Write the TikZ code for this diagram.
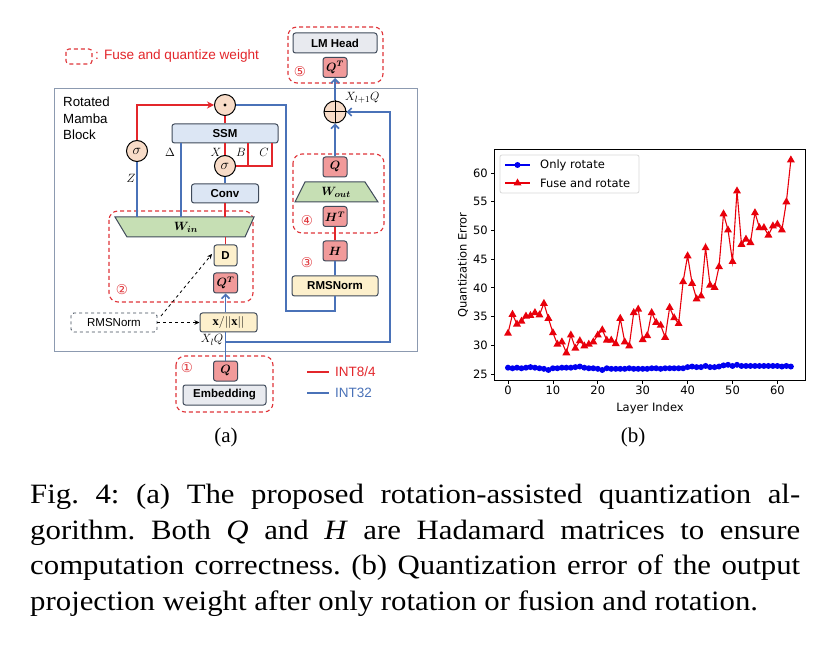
\documentclass[tikz,border=0pt]{standalone}
\usepackage{amsmath}
\usepackage{fontspec}
\setmainfont{Liberation Serif}
\setsansfont{Liberation Sans}
\newfontfamily\dejavu{DejaVu Sans}
\usetikzlibrary{arrows.meta,calc}
\definecolor{redl}{HTML}{E3262B}
\definecolor{bluel}{HTML}{4A72B8}
\definecolor{pinkf}{HTML}{F19A9A}
\definecolor{yelf}{HTML}{FDF0CC}
\definecolor{bluef}{HTML}{DCE6F4}
\definecolor{grayf}{HTML}{E8EAEF}
\definecolor{greenf}{HTML}{C6DFB4}
\definecolor{peachf}{HTML}{F8DCC8}
\definecolor{boxb}{HTML}{3F4A5A}
\definecolor{blockb}{HTML}{8C9AB0}
\definecolor{dashred}{HTML}{E0353A}
\definecolor{plotblue}{HTML}{0000F0}
\definecolor{plotred}{HTML}{E8000B}
\tikzset{
  box/.style={draw=boxb, line width=1pt, rounded corners=2.5pt, inner sep=0pt,
    font=\sffamily\bfseries\fontsize{11.5}{13}\selectfont},
  pbox/.style={box, fill=pinkf, minimum width=24, minimum height=20, font=\fontsize{11.5}{13}\selectfont},
  ybox/.style={box, fill=yelf},
  bbox/.style={box, fill=bluef},
  gbox/.style={box, fill=grayf},
  opc/.style={circle, draw=black, line width=1pt, fill=peachf, minimum size=21, inner sep=0pt,
    font=\fontsize{15}{15}\selectfont},
  qbox/.style={draw=dashred, line width=1.1pt, rounded corners=9pt, dash pattern=on 4pt off 3pt},
  rl/.style={draw=redl, line width=1.8pt},
  bl/.style={draw=bluel, line width=1.6pt},
  barb/.style={-{Straight Barb[length=4pt,width=8pt]}},
  num/.style={text=dashred, font=\dejavu\fontsize{13.5}{13.5}\selectfont, inner sep=0pt},
  lab/.style={font=\fontsize{12.5}{12.5}\selectfont, inner sep=0pt},
  tick/.style={font=\dejavu\fontsize{11.5}{12}\selectfont, inner sep=0pt},
  trap/.style={draw=boxb, line width=1pt, fill=greenf},
}
\begin{document}
\begin{tikzpicture}[x=1pt, y=-1pt]
\useasboundingbox (0,0) rectangle (830,652);
\fill[white] (0,0) rectangle (830,652);

% ---------- legend top
\draw[qbox, rounded corners=3pt] (66,49) rectangle (92,64);
\node[anchor=west, text=redl, font=\sffamily\fontsize{13.6}{15}\selectfont, inner sep=0pt] (legt) at (95,56) {: Fuse and quantize weight};

% ---------- block
\draw[blockb, line width=1pt] (54,89) rectangle (417,351);
\node[anchor=north west, align=left, font=\sffamily\fontsize{13.3}{16.5}\selectfont, inner sep=0pt] (blk) at (63,97) {Rotated\\Mamba\\Block};

% ---------- dashed groups
\draw[qbox] (288,27) rectangle (383,83);
\draw[qbox] (293,154) rectangle (384,233);
\draw[qbox] (109,211) rectangle (253,302);
\draw[qbox] (176,356) rectangle (273,412);

% ---------- trapezoids
\draw[trap] (115,217) -- (254,217) -- (245,237) -- (127,237) -- cycle;
\node[font=\fontsize{12.5}{12.5}\selectfont] (win) at (186,227) {$\boldsymbol{W_{in}}$};
\coordinate (wintop) at (186,217);
\coordinate (winbot) at (186,237);
\draw[trap] (305,182) -- (365,182) -- (378,202) -- (295,202) -- cycle;
\node[font=\fontsize{12.5}{12.5}\selectfont] (wout) at (336,192) {$\boldsymbol{W_{out}}$};

% ---------- nodes left column
\node[opc] (dot) at (225,105) {};
\fill (dot.center) circle (1.6pt);
\node[opc] (sigL) at (137,151) {$\sigma$};
\node[bbox, minimum width=106, minimum height=19] (ssm) at (225,133.5) {SSM};
\node[opc] (sigM) at (225,166) {$\sigma$};
\node[bbox, minimum width=67, minimum height=19] (conv) at (225,193.5) {Conv};
\node[ybox, minimum width=23, minimum height=21] (D) at (225.5,255.5) {D};
\node[pbox] (QT) at (225.5,283) {$\boldsymbol{Q^T}$};
\node[ybox, minimum width=57, minimum height=19, font=\fontsize{12.5}{13}\selectfont] (xn) at (228.5,322.5) {$\mathbf{x}/||\mathbf{x}||$};
\node[draw=boxb, dashed, line width=0.9pt, rounded corners=3pt, minimum width=86, minimum height=19, inner sep=0pt,
  font=\sffamily\fontsize{11.5}{13}\selectfont] (rms1) at (114,322.5) {RMSNorm};
\node[pbox] (Qb) at (225.5,371) {$\boldsymbol{Q}$};
\node[gbox, minimum width=83, minimum height=20] (emb) at (224.5,395) {Embedding};

% ---------- nodes right column
\node[gbox, minimum width=84, minimum height=20] (lm) at (335,43) {LM Head};
\node[pbox] (QT5) at (335,67.5) {$\boldsymbol{Q^T}$};
\node[opc, minimum size=22] (op) at (335,112) {};
\draw[line width=1pt] (op.north) -- (op.south) (op.west) -- (op.east);
\node[pbox] (Qo) at (335,167) {$\boldsymbol{Q}$};
\node[pbox] (HT) at (335,216.5) {$\boldsymbol{H^T}$};
\node[pbox] (H) at (335,251) {$\boldsymbol{H}$};
\node[ybox, minimum width=86, minimum height=20] (rms2) at (335,286) {RMSNorm};

% ---------- labels
\node[lab] (Zl) at (131,178) {$Z$};
\node[lab] (Dl) at (170,152) {$\Delta$};
\node[lab] (Xl) at (216,152) {$X$};
\node[lab] (Bl) at (241,152) {$B$};
\node[lab] (Cl) at (264,152) {$C$};
\node[lab] (xlq) at (212,340) {$X_lQ$};
\node[lab, anchor=west] (xl1q) at (345,98) {$X_{l+1}Q$};
\node[num] (n1) at (187,368) {①};
\node[num] (n2) at (122,290) {②};
\node[num] (n3) at (307,263) {③};
\node[num] (n4) at (307,221) {④};
\node[num] (n5) at (300,72) {⑤};

% ---------- connectors
\coordinate (cB) at (248,166);
\coordinate (cC) at (272,166);
\coordinate (dtop) at (181,143);
\coordinate (r1) at (286,311);
\coordinate (res) at (390,342);
\coordinate (ds) at (161,316);
\coordinate (dt) at (212,254);

\draw[rl, -{Stealth[length=7pt,width=7pt]}] (sigL.north) |- (dot.west);
\draw[rl] (dot.south) -- (ssm.north);
\draw[rl] (ssm.south) -- (sigM.north);
\draw[rl] (sigM.east) -- (cC) -- (cC |- ssm.south);
\draw[rl] (cB) -- (cB |- ssm.south);
\draw[bl] (sigM.south) -- (conv.north);
\draw[rl] (conv.south) -- (conv.south |- wintop);
\draw[rl] (D.north) -- (D.north |- winbot);
\draw[bl] (sigL.south) -- (sigL.south |- wintop);
\draw[bl] (dtop) -- (dtop |- wintop);
\draw[bl] (dot.east) -| (r1) -| (rms2.south);
\draw[bl] (rms2.north) -- (H.south);
\draw[rl] (H.north) -- (HT.south);
\draw[bl, barb] (Qo.north) -- (op.south);
\draw[bl, barb] (Qb.north |- res) -- (res) |- (op.east);
\draw[bl] (Qb.north) -- (Qb.north |- xn.south);
\draw[bl, barb] (QT.south |- xn.north) -- (QT.south);
\draw[bl, barb] (op.north) -- (QT5.south);
\draw[dashed, line width=0.8pt, -{Stealth[length=5pt,width=4.5pt]}] (rms1.east) -- (xn.west);
\draw[dashed, line width=0.8pt, -{Stealth[length=5pt,width=4.5pt]}] (ds) -- (dt);

% ---------- INT legend
\coordinate (lr) at (307,372);
\coordinate (lb) at (307,393);
\draw[redl, line width=2pt] (lr) -- ++(22,0);
\draw[bluel, line width=1.6pt] (lb) -- ++(22,0);
\node[anchor=west, text=redl, font=\sffamily\fontsize{13.5}{14}\selectfont, inner sep=0pt] (int8) at (335,372) {INT8/4};
\node[anchor=west, text=bluel, font=\sffamily\fontsize{13.5}{14}\selectfont, inner sep=0pt] (int32) at (335,393) {INT32};

% ---------- chart (b)
\draw[black, line width=0.8pt] (494,149) rectangle (805,380);
\foreach \k in {0,10,...,60} {
  \draw[line width=0.8pt] ({508+4.49*\k}, 380) -- ++(0,3.5);
  \node[tick, anchor=north] (xt\k) at ({508+4.49*\k}, 386) {\k};
}
\foreach \v in {25,30,...,60} {
  \draw[line width=0.8pt] (494, {374-5.74*(\v-25)}) -- ++(-3.5,0);
  \node[tick, anchor=east] (yt\v) at (488, {374-5.74*(\v-25)}) {\v};
}
\node[tick] (xlab) at (650,408) {Layer Index};
\node[tick, rotate=90] (ylab) at (463,265) {Quantization Error};

\begin{scope}[shift={(508pt,-517.5pt)}, x=4.49pt, y=5.74pt]
  \draw[plotblue, line width=1.1pt] (0,26.1) \foreach \v [count=\i] in
   {26.0,26.1,26.0,26.1,26.2,26.1,26.0,25.9,25.7,26.0,26.0,26.1,26.1,26.1,26.2,26.3,26.1,26.0,26.0,25.9,25.7,26.0,25.9,25.9,25.9,25.9,26.0,25.9,25.9,25.9,25.9,26.0,26.0,25.9,26.0,26.0,26.0,26.0,26.0,26.2,26.3,26.2,26.2,26.4,26.2,26.2,26.3,26.5,26.6,26.4,26.6,26.4,26.4,26.4,26.4,26.4,26.4,26.4,26.4,26.4,26.3,26.4,26.3} { -- (\i,\v) };
  \foreach \v [count=\i from 0] in
   {26.1,26.0,26.1,26.0,26.1,26.2,26.1,26.0,25.9,25.7,26.0,26.0,26.1,26.1,26.1,26.2,26.3,26.1,26.0,26.0,25.9,25.7,26.0,25.9,25.9,25.9,25.9,26.0,25.9,25.9,25.9,25.9,26.0,26.0,25.9,26.0,26.0,26.0,26.0,26.0,26.2,26.3,26.2,26.2,26.4,26.2,26.2,26.3,26.5,26.6,26.4,26.6,26.4,26.4,26.4,26.4,26.4,26.4,26.4,26.4,26.4,26.3,26.4,26.3}
   { \fill[plotblue] (\i,\v) circle (3pt); }
  \draw[plotred, line width=1.1pt] (0,32.1) \foreach \v [count=\i] in
   {35.4,33.7,34.2,35.1,35.2,35.7,35.3,37.3,34.7,32.2,30.2,30.6,28.7,31.8,29.5,30.8,29.9,30.2,30.6,31.8,32.7,30.9,30.9,30.3,34.7,30.6,29.9,35.7,36.3,31.0,31.7,35.7,34.0,33.5,31.4,36.6,34.8,33.8,41.1,45.6,40.8,38.1,38.6,47.0,40.5,40.1,43.7,52.9,50.1,44.6,56.9,47.6,48.5,47.9,53.1,50.5,50.5,49.2,50.8,51.1,50.1,55.0,62.3} { -- (\i,\v) };
  \foreach \v [count=\i from 0] in
   {32.1,35.4,33.7,34.2,35.1,35.2,35.7,35.3,37.3,34.7,32.2,30.2,30.6,28.7,31.8,29.5,30.8,29.9,30.2,30.6,31.8,32.7,30.9,30.9,30.3,34.7,30.6,29.9,35.7,36.3,31.0,31.7,35.7,34.0,33.5,31.4,36.6,34.8,33.8,41.1,45.6,40.8,38.1,38.6,47.0,40.5,40.1,43.7,52.9,50.1,44.6,56.9,47.6,48.5,47.9,53.1,50.5,50.5,49.2,50.8,51.1,50.1,55.0,62.3}
   { \fill[plotred] (\i,\v) ++(0pt,4.5pt) -- ++(-4pt,-7pt) -- ++(8pt,0pt) -- cycle; }
\end{scope}

% chart legend
\draw[draw=black!15, fill=white, rounded corners=2pt, line width=0.8pt] (500,155) rectangle (639,193);
\coordinate (lgb) at (505,165);
\coordinate (lgr) at (505,183);
\draw[plotblue, line width=1.1pt] (lgb) -- ++(25,0);
\fill[plotblue] ($(lgb)+(12.5,0)$) circle (3pt);
\draw[plotred, line width=1.1pt] (lgr) -- ++(25,0);
\fill[plotred] ($(lgr)+(12.5,0)$) ++(0pt,4.5pt) -- ++(-4pt,-7pt) -- ++(8pt,0pt) -- cycle;
\node[tick, anchor=west] (lg1) at (540,165) {Only rotate};
\node[tick, anchor=west] (lg2) at (540,183) {Fuse and rotate};

% ---------- sub-captions and caption
\node[font=\fontsize{21}{24}\selectfont] (capa) at (226,437) {(a)};
\node[font=\fontsize{21}{24}\selectfont] (capb) at (633,437) {(b)};
\begin{scope}[every node/.style={anchor=base west, inner sep=0pt, font=\frenchspacing\fontsize{28}{36}\selectfont}]
\node (c1) at (30,503) {\scalebox{1.1}[1]{\makebox[700pt][s]{Fig. 4: (a) The proposed rotation-assisted quantization al-}}};
\node (c2) at (30,539) {\scalebox{1.1}[1]{\makebox[700pt][s]{gorithm. Both \textit{Q} and \textit{H} are Hadamard matrices to ensure}}};
\node (c3) at (30,574.5) {\scalebox{1.1}[1]{\makebox[700pt][s]{computation correctness. (b) Quantization error of the output}}};
\node (c4) at (30,610) {\scalebox{1.1}[1]{projection weight after only rotation or fusion and rotation.}};
\end{scope}
\end{tikzpicture}
\end{document}
